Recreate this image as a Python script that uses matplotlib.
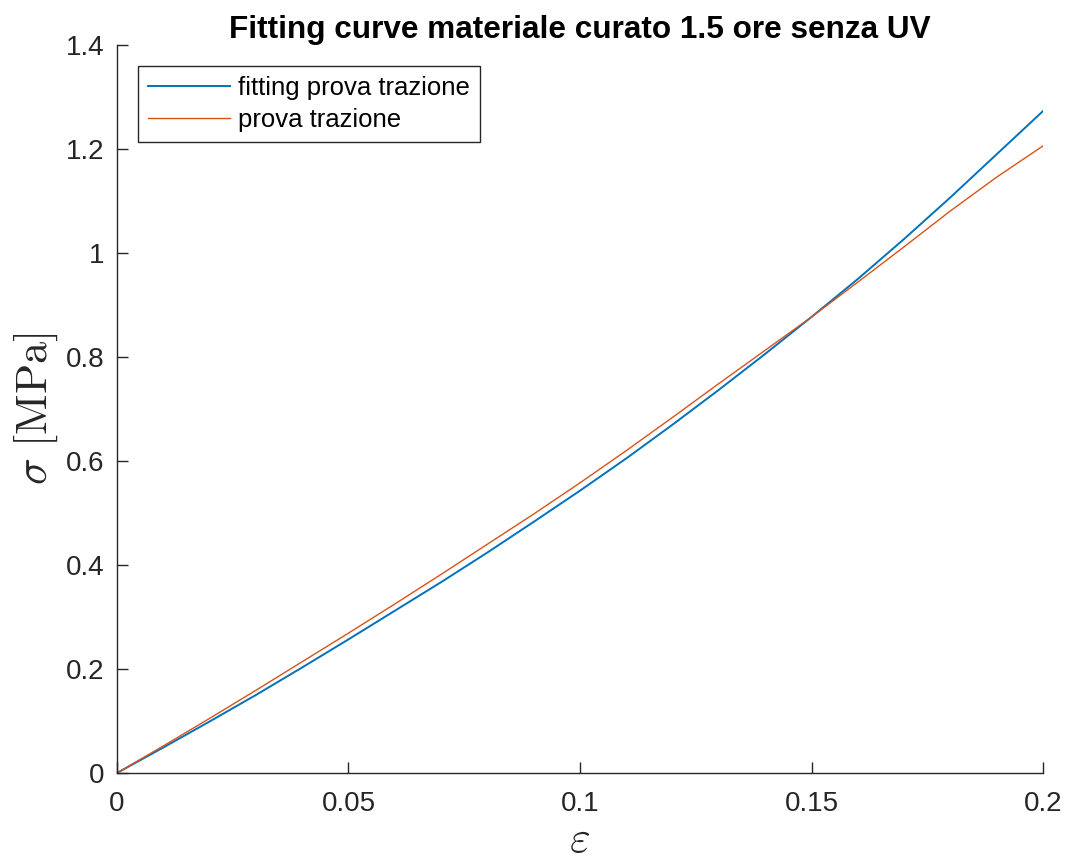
import numpy as np
import matplotlib
matplotlib.use('Agg')
import matplotlib.pyplot as plt

plt.rcParams['font.family'] = ['Liberation Sans', 'DejaVu Sans']
plt.rcParams['mathtext.fontset'] = 'cm'

# strain values
eps = [0, 0.01, 0.02, 0.03, 0.04, 0.05, 0.06, 0.07, 0.08, 0.09, 0.10,
       0.11, 0.12, 0.13, 0.14, 0.15, 0.16, 0.17, 0.18, 0.19, 0.20]
# fitting curve
sig_fit = [0, 0.049, 0.099, 0.150, 0.203, 0.257, 0.312, 0.367, 0.424, 0.483, 0.543,
           0.605, 0.670, 0.737, 0.806, 0.877, 0.950, 1.027, 1.107, 1.190, 1.273]
# tensile test
sig_test = [0, 0.052, 0.105, 0.159, 0.214, 0.269, 0.325, 0.382, 0.440, 0.498, 0.558,
            0.620, 0.684, 0.749, 0.813, 0.877, 0.944, 1.012, 1.081, 1.146, 1.206]

fig = plt.figure(figsize=(10.69, 8.59), dpi=100)
ax = fig.add_axes([0.1094, 0.1001, 0.8663, 0.8475])

ax.plot(eps, sig_fit, color='#0072BD', lw=1.4, label='fitting prova trazione')
ax.plot(eps, sig_test, color='#D95319', lw=1.0, label='prova trazione')

ax.set_xlim(0, 0.2)
ax.set_ylim(0, 1.4)
ax.set_xticks([0, 0.05, 0.1, 0.15, 0.2])
ax.set_xticklabels(['0', '0.05', '0.1', '0.15', '0.2'])
ax.set_yticks([0, 0.2, 0.4, 0.6, 0.8, 1.0, 1.2, 1.4])
ax.set_yticklabels(['0', '0.2', '0.4', '0.6', '0.8', '1', '1.2', '1.4'])

for s in ['top', 'right']:
    ax.spines[s].set_visible(False)
for s in ['left', 'bottom']:
    ax.spines[s].set_color('#262626')
    ax.spines[s].set_linewidth(1.0)
ax.tick_params(direction='in', length=8, width=1.0, colors='#262626',
               labelsize=20)
ax.tick_params(axis='x', pad=13)
ax.tick_params(axis='y', pad=9)

ax.set_xlabel(r'$\varepsilon$', fontsize=32, color='#262626', labelpad=2)
ax.set_ylabel(r'$\sigma\ [\mathrm{MPa}]$', fontsize=32, color='#262626', labelpad=4)
ax.set_title('Fitting curve materiale curato 1.5 ore senza UV',
             fontsize=22.7, fontweight='bold', pad=1)

leg = ax.legend(loc='upper left', fontsize=18.5, frameon=True, fancybox=False,
                edgecolor='#262626', framealpha=1, borderaxespad=0.8,
                handlelength=3.2, handletextpad=0.3, borderpad=0.4,
                labelspacing=0.3)
leg.get_frame().set_linewidth(1.0)

fig.savefig('out.png', dpi=100)
